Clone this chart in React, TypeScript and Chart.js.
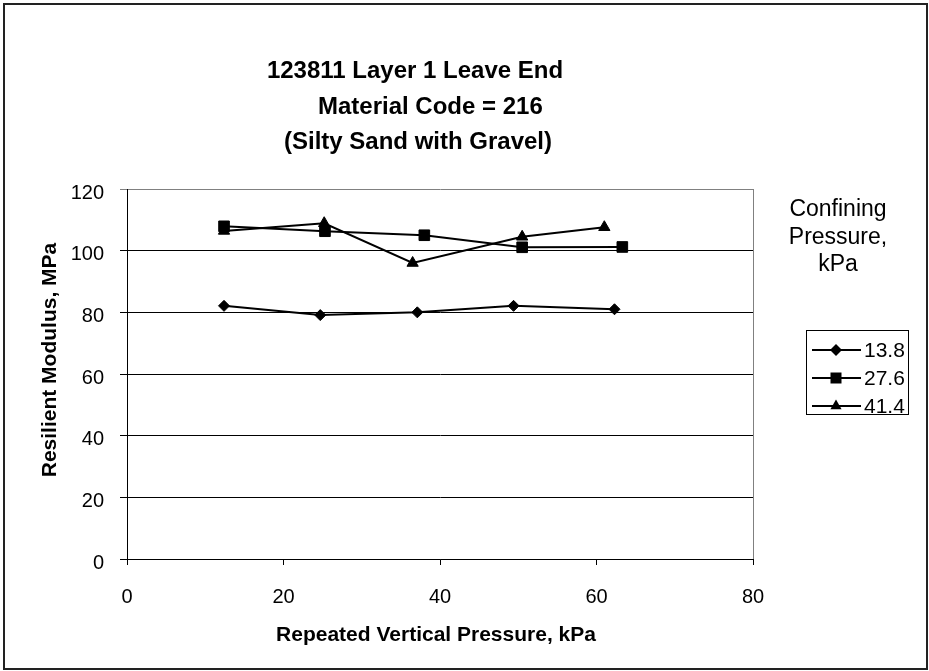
import React, { useEffect, useRef } from 'react';
import { Chart, registerables } from 'chart.js';

Chart.register(...registerables);

const titleLines = ['123811 Layer 1 Leave End', 'Material Code = 216', '(Silty Sand with Gravel)'];
const xAxisTitle = 'Repeated Vertical Pressure, kPa';
const yAxisTitle = 'Resilient Modulus, MPa';
const legendTitle = ['Confining', 'Pressure,', 'kPa'];
const seriesLabels = ['13.8', '27.6', '41.4'];
const pointStyles = ['rectRot', 'rect', 'triangle'];

const x138 = [12.4, 24.7, 37.1, 49.4, 62.3];
const y138 = [82.1, 79.1, 80.0, 82.1, 81.0];
const x276 = [12.4, 25.3, 38.0, 50.5, 63.3];
const y276 = [107.9, 106.3, 105.0, 101.1, 101.2];
const x414 = [12.4, 25.2, 36.5, 50.5, 61.0];
const y414 = [106.4, 108.9, 96.0, 104.5, 107.6];

const xMin = 0, xMax = 80, xStep = 20;
const yMin = 0, yMax = 120, yStep = 20;

const FONT = '"Liberation Sans", Arial, Helvetica, sans-serif';

function toPoints(xs: number[], ys: number[]) {
  return xs.map((x, i) => ({ x, y: ys[i] }));
}

function drawMarker(ctx: CanvasRenderingContext2D, style: string, x: number, y: number) {
  ctx.beginPath();
  if (style === 'rectRot') {
    ctx.moveTo(x - 6, y); ctx.lineTo(x, y - 6); ctx.lineTo(x + 6, y); ctx.lineTo(x, y + 6);
  } else if (style === 'rect') {
    ctx.rect(x - 5.5, y - 5.5, 11, 11);
  } else {
    ctx.moveTo(x, y - 6.5); ctx.lineTo(x + 5.6, y + 3.3); ctx.lineTo(x - 5.6, y + 3.3);
  }
  ctx.closePath();
  ctx.fill();
}

const decorPlugin = {
  id: 'decor',
  beforeDraw(chart: any) {
    const { ctx, width, height } = chart;
    ctx.save();
    ctx.fillStyle = '#fff';
    ctx.fillRect(0, 0, width, height);
    ctx.strokeStyle = '#222';
    ctx.lineWidth = 2;
    ctx.strokeRect(4, 4, 923, 665);
    ctx.restore();
  },
  afterDraw(chart: any) {
    const { ctx, chartArea } = chart;
    const ca = chartArea;
    ctx.save();
    // plot area right border
    ctx.strokeStyle = '#808080';
    ctx.lineWidth = 1;
    ctx.beginPath();
    ctx.moveTo(Math.round(ca.right) + 0.5, ca.top);
    ctx.lineTo(Math.round(ca.right) + 0.5, ca.bottom);
    ctx.stroke();

    ctx.fillStyle = '#000';
    // title
    ctx.font = `bold 24px ${FONT}`;
    ctx.textBaseline = 'middle';
    ctx.textAlign = 'center';
    ctx.fillText(titleLines[0], 415, 71);
    ctx.textAlign = 'left';
    ctx.fillText(titleLines[1], 318, 107);
    ctx.textAlign = 'center';
    ctx.fillText(titleLines[2], 418, 142);

    // x axis title
    ctx.font = `bold 21px ${FONT}`;
    ctx.fillText(xAxisTitle, 436, 635);

    // y axis title
    ctx.save();
    ctx.translate(50, 360);
    ctx.rotate(-Math.PI / 2);
    ctx.fillText(yAxisTitle, 0, 0);
    ctx.restore();

    // legend title
    ctx.font = `23px ${FONT}`;
    ctx.textAlign = 'center';
    legendTitle.forEach((t, i) => ctx.fillText(t, 838, 210 + i * 27.5));

    // legend box
    ctx.strokeStyle = '#000';
    ctx.lineWidth = 1;
    ctx.strokeRect(806.5, 330.5, 102, 84);
    ctx.font = `21px ${FONT}`;
    ctx.textAlign = 'left';
    seriesLabels.forEach((lab, i) => {
      const y = 350 + i * 28;
      ctx.lineWidth = 2;
      ctx.beginPath();
      ctx.moveTo(812, y);
      ctx.lineTo(861, y);
      ctx.stroke();
      drawMarker(ctx, pointStyles[i], 836, y);
      ctx.fillText(lab, 864, y + 1);
    });
    ctx.restore();
  },
};

export default function App() {
  const ref = useRef<HTMLCanvasElement | null>(null);
  useEffect(() => {
    document.body.style.margin = '0';
    const canvas = ref.current;
    if (!canvas) return;
    const radii = [5.5, 7.5, 6.5];
    const chart = new Chart(canvas, {
      type: 'line',
      data: {
        datasets: [
          { label: seriesLabels[0], data: toPoints(x138, y138) },
          { label: seriesLabels[1], data: toPoints(x276, y276) },
          { label: seriesLabels[2], data: toPoints(x414, y414) },
        ].map((d, i) => ({
          ...d,
          borderColor: '#000',
          backgroundColor: '#000',
          borderWidth: 2,
          pointStyle: pointStyles[i] as any,
          pointRadius: radii[i],
          pointBorderWidth: 1,
          pointBackgroundColor: '#000',
          pointBorderColor: '#000',
          tension: 0,
          fill: false,
        })),
      },
      options: {
        responsive: false,
        animation: false,
        devicePixelRatio: 1,
        layout: { padding: { top: 189, right: 176, left: 0, bottom: 0 } },
        plugins: {
          legend: { display: false },
          title: { display: false },
          tooltip: { enabled: false },
        },
        scales: {
          x: {
            type: 'linear',
            min: xMin,
            max: xMax,
            afterFit: (s: any) => { s.height = 112; },
            ticks: { stepSize: xStep, color: '#000', font: { size: 20, family: FONT }, padding: 20, maxRotation: 0 },
            grid: { drawOnChartArea: false, drawTicks: true, tickLength: 6, color: '#000', lineWidth: 1 },
            border: { display: true, color: '#000', width: 1 },
          },
          y: {
            type: 'linear',
            min: yMin,
            max: yMax,
            afterFit: (s: any) => { s.width = 127; },
            ticks: { stepSize: yStep, color: '#000', font: { size: 20, family: FONT }, padding: 16, labelOffset: 4 },
            grid: {
              drawOnChartArea: true,
              drawTicks: true,
              tickLength: 7,
              lineWidth: 1,
              color: (c: any) => (c.tick && c.tick.value === yMax ? '#808080' : '#000'),
            },
            border: { display: true, color: '#000', width: 1 },
          },
        },
      },
      plugins: [decorPlugin],
    });
    return () => chart.destroy();
  }, []);
  return <canvas ref={ref} width={929} height={671} style={{ display: 'block' }} />;
}
